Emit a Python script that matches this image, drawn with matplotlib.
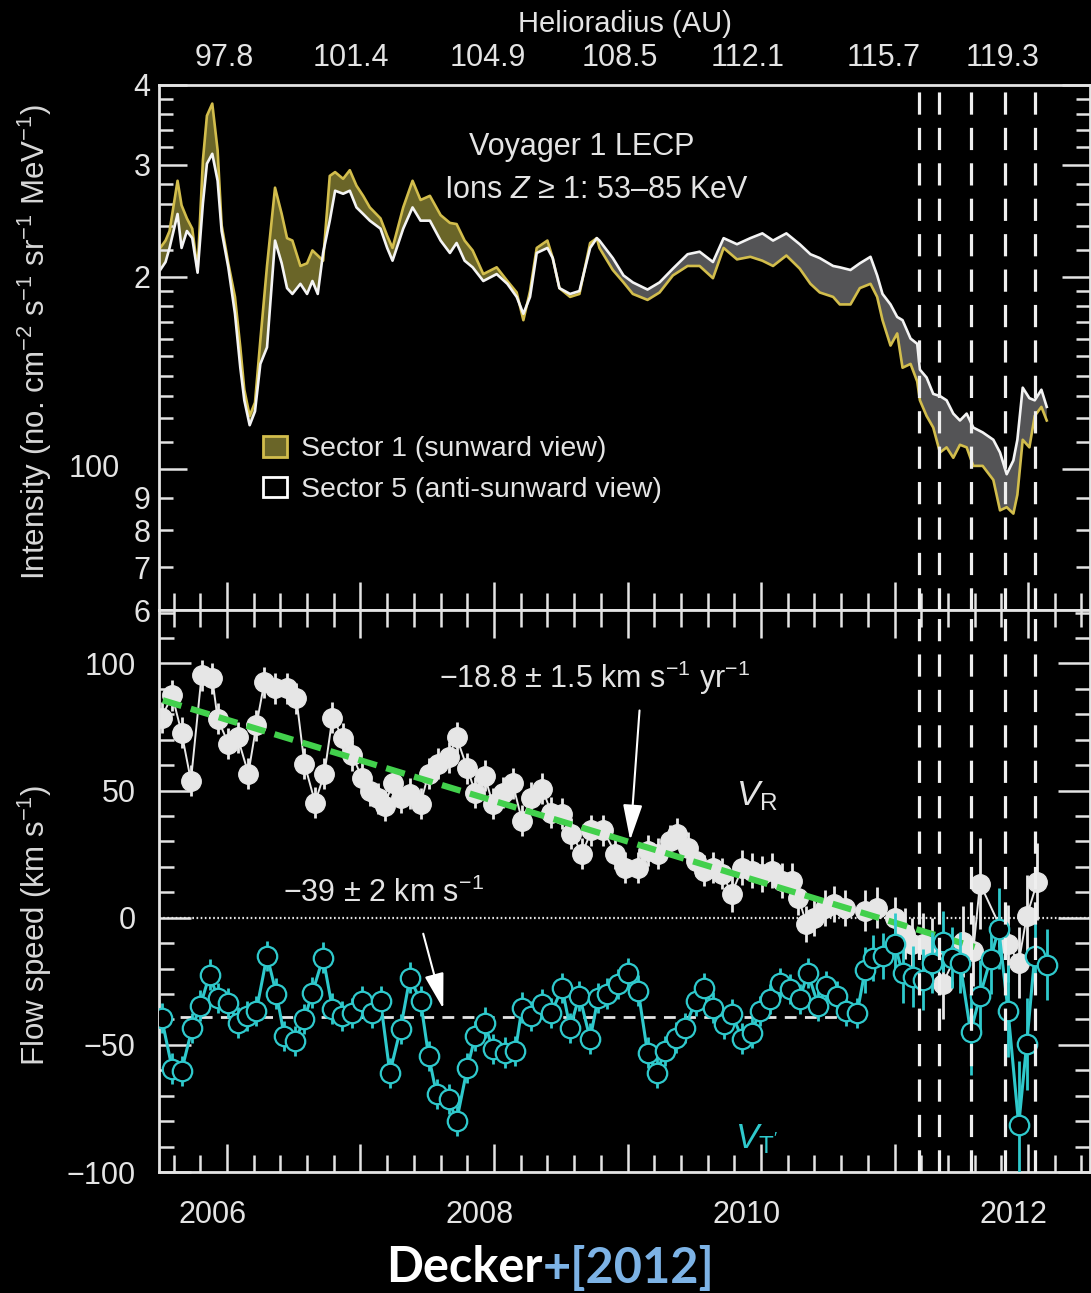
import numpy as np
import matplotlib.pyplot as plt
from matplotlib.patches import Patch
from matplotlib import transforms

plt.rcParams['font.family'] = ['Liberation Sans', 'DejaVu Sans']
plt.rcParams['mathtext.fontset'] = 'custom'
plt.rcParams['mathtext.rm'] = 'Liberation Sans'
plt.rcParams['mathtext.it'] = 'Liberation Sans:italic'
plt.rcParams['mathtext.bf'] = 'Liberation Sans:bold'
plt.rcParams['lines.scale_dashes'] = False

FG = '#e4e4e4'
GOLD = '#d2bd4c'
OLIVE = '#6a6528'
GRAY = '#545456'
CYAN = '#2fc9cc'
GREEN = '#42d04c'

# ---- top panel: LECP ion intensity (time in years) ----
T_INT = [2005.50, 2005.54, 2005.57, 2005.63, 2005.66, 2005.70, 2005.74, 2005.78, 2005.82, 2005.85,
         2005.89, 2005.93, 2005.96, 2006.01, 2006.06, 2006.10, 2006.13, 2006.17, 2006.21, 2006.25,
         2006.30, 2006.36, 2006.41, 2006.45, 2006.49, 2006.55, 2006.60, 2006.64, 2006.68, 2006.72,
         2006.77, 2006.81, 2006.87, 2006.92, 2006.97, 2007.02, 2007.07, 2007.15, 2007.20, 2007.24,
         2007.32, 2007.39, 2007.45, 2007.52, 2007.60, 2007.67, 2007.72, 2007.78, 2007.84, 2007.92,
         2008.02, 2008.10, 2008.17, 2008.22, 2008.27, 2008.32, 2008.40, 2008.44, 2008.49, 2008.57,
         2008.64, 2008.72, 2008.77, 2008.79, 2008.89, 2008.97, 2009.04, 2009.15, 2009.24, 2009.34,
         2009.45, 2009.54, 2009.64, 2009.72, 2009.82, 2009.92, 2010.01, 2010.09, 2010.19, 2010.29,
         2010.37, 2010.44, 2010.54, 2010.59, 2010.67, 2010.74, 2010.82, 2010.87, 2010.91, 2010.97,
         2011.02, 2011.06, 2011.12, 2011.17, 2011.19, 2011.24, 2011.29, 2011.34, 2011.39, 2011.44,
         2011.49, 2011.54, 2011.59, 2011.66, 2011.74, 2011.79, 2011.84, 2011.89, 2011.92, 2011.96,
         2012.01, 2012.05, 2012.10, 2012.14]
SECTOR5 = [205, 211, 222, 251, 222, 236, 230, 203, 261, 301,
           312, 283, 236, 207, 175, 144, 128, 117, 123, 146,
           155, 228, 210, 192, 188, 195, 188, 197, 188, 218,
           245, 273, 270, 273, 257, 251, 245, 238, 222, 212,
           238, 257, 245, 245, 228, 218, 226, 212, 207, 197,
           202, 195, 186, 175, 186, 218, 222, 214, 192, 188,
           190, 222, 230, 228, 214, 201, 196, 191, 196, 206,
           217, 219, 211, 230, 225, 230, 234, 228, 234, 225,
           217, 214, 208, 207, 205, 210, 215, 201, 188, 181,
           173, 171, 160, 157, 143, 139, 131, 130, 128, 122,
           119, 122, 116, 114, 111, 106, 98, 103, 111, 134,
           129, 128, 133, 125]
SECTOR1 = [222, 228, 236, 283, 259, 247, 238, 205, 305, 358,
           374, 316, 241, 210, 186, 155, 133, 121, 127, 159,
           208, 276, 251, 230, 228, 208, 210, 220, 216, 212,
           288, 292, 285, 294, 278, 268, 257, 247, 232, 222,
           257, 283, 264, 268, 250, 243, 242, 228, 220, 202,
           207, 197, 189, 171, 190, 222, 228, 214, 192, 186,
           188, 226, 230, 222, 205, 196, 188, 184, 189, 201,
           208, 208, 199, 222, 213, 215, 212, 208, 216, 206,
           195, 189, 186, 181, 181, 192, 195, 186, 171, 156,
           163, 144, 146, 137, 128, 121, 116, 106, 108, 104,
           109, 108, 101, 101, 96, 86, 87, 85, 91, 111,
           108, 121, 125, 119]

# ---- bottom panel: flow speeds ----
VR_T = [2005.51, 2005.59, 2005.66, 2005.73, 2005.81, 2005.89, 2005.93, 2006.01, 2006.08, 2006.16,
        2006.22, 2006.28, 2006.36, 2006.45, 2006.52, 2006.58, 2006.66, 2006.73, 2006.79, 2006.87,
        2006.94, 2007.01, 2007.07, 2007.13, 2007.18, 2007.24, 2007.30, 2007.37, 2007.45, 2007.51,
        2007.58, 2007.66, 2007.72, 2007.80, 2007.86, 2007.93, 2007.99, 2008.07, 2008.14, 2008.21,
        2008.28, 2008.36, 2008.43, 2008.51, 2008.58, 2008.66, 2008.73, 2008.82, 2008.91, 2008.98,
        2009.08, 2009.15, 2009.23, 2009.32, 2009.37, 2009.45, 2009.51, 2009.57, 2009.64, 2009.71,
        2009.78, 2009.86, 2009.93, 2010.01, 2010.08, 2010.16, 2010.23, 2010.28, 2010.34, 2010.40,
        2010.48, 2010.55, 2010.63, 2010.78, 2010.87, 2011.00, 2011.08, 2011.13, 2011.21, 2011.28,
        2011.36, 2011.51, 2011.59, 2011.64, 2011.85, 2011.93, 2011.99, 2012.07]
VR_V = [78.7, 87.4, 72.8, 53.9, 95.3, 94.1, 78.3, 68.5, 70.9, 56.7,
        75.6, 92.5, 90.2, 90.2, 86.2, 60.6, 45.3, 56.7, 78.7, 70.5,
        63.8, 55.1, 50.0, 46.9, 44.1, 52.8, 47.2, 48.8, 44.9, 56.7,
        60.6, 63.0, 70.9, 58.7, 49.2, 55.9, 44.9, 49.2, 52.8, 38.2,
        47.2, 50.8, 41.3, 40.9, 33.1, 25.2, 34.3, 34.3, 25.2, 19.7,
        19.7, 26.4, 25.2, 30.3, 33.1, 27.6, 22.4, 18.5, 19.7, 17.3,
        9.4, 19.7, 18.5, 17.3, 18.5, 14.6, 14.6, 7.9, -2.4, 0.0,
        3.9, 5.5, 3.9, 2.8, 3.9, 0.0, -6.3, -10.2, -10.2, -12.2,
        -26.0, -9.4, -13.0, 13.4, -10.2, -17.7, 0.6, 14.2]
VR_ERR = [6, 6, 6, 6, 6, 6, 6, 6, 6, 6,
          6, 6, 6, 6, 6, 6, 6, 6, 6, 6,
          6, 6, 6, 6, 6, 6, 6, 6, 6, 6,
          6, 6, 6, 6, 6, 6, 6, 6, 6, 6,
          6, 6, 6, 6, 6, 6, 6, 6, 6, 6,
          6, 6, 6, 6, 6, 6, 6, 6, 6, 6,
          7, 7, 7, 7, 7, 7, 7, 7, 7, 7,
          7, 7, 7, 8, 8, 8, 10, 10, 12, 12,
          14, 14, 14, 18, 15, 14, 16, 15]

VT_T = [2005.51, 2005.59, 2005.66, 2005.74, 2005.80, 2005.87, 2005.93, 2006.01, 2006.08, 2006.15,
        2006.22, 2006.30, 2006.37, 2006.43, 2006.51, 2006.58, 2006.64, 2006.72, 2006.79, 2006.86,
        2006.94, 2007.01, 2007.09, 2007.15, 2007.22, 2007.30, 2007.37, 2007.45, 2007.51, 2007.57,
        2007.66, 2007.72, 2007.80, 2007.86, 2007.93, 2007.99, 2008.08, 2008.16, 2008.21, 2008.28,
        2008.36, 2008.43, 2008.51, 2008.57, 2008.64, 2008.72, 2008.78, 2008.85, 2008.93, 2009.00,
        2009.08, 2009.15, 2009.22, 2009.28, 2009.36, 2009.43, 2009.51, 2009.57, 2009.64, 2009.72,
        2009.78, 2009.86, 2009.93, 2009.99, 2010.07, 2010.14, 2010.22, 2010.29, 2010.35, 2010.43,
        2010.49, 2010.57, 2010.64, 2010.72, 2010.78, 2010.84, 2010.91, 2011.00, 2011.06, 2011.14,
        2011.21, 2011.28, 2011.36, 2011.43, 2011.49, 2011.57, 2011.64, 2011.72, 2011.78, 2011.85,
        2011.93, 2011.99, 2012.05, 2012.14]
VT_V = [-39.4, -59.4, -60.2, -43.3, -34.6, -22.4, -31.5, -33.5, -41.3, -38.6,
        -36.6, -15.0, -29.9, -46.5, -48.4, -39.8, -29.5, -15.7, -35.8, -38.6,
        -37.4, -32.7, -37.4, -32.7, -61.0, -43.7, -23.6, -32.7, -54.3, -69.3,
        -71.3, -79.9, -59.1, -46.5, -41.3, -51.6, -53.1, -52.4, -35.4, -38.6,
        -33.9, -37.4, -27.6, -43.3, -30.7, -47.6, -31.5, -29.9, -26.0, -21.7,
        -28.7, -53.1, -61.0, -52.4, -47.2, -43.3, -32.7, -27.6, -35.4, -41.7,
        -37.8, -47.6, -45.3, -36.6, -31.9, -25.6, -28.0, -31.9, -21.7, -34.6,
        -26.8, -30.7, -36.6, -37.4, -20.5, -15.7, -15.0, -10.2, -21.7, -23.2,
        -24.4, -17.7, -9.4, -15.7, -17.7, -44.9, -30.7, -16.1, -4.3, -36.6,
        -81.5, -49.6, -15.0, -18.5]
VT_ERR = [6, 6, 6, 6, 6, 6, 6, 6, 6, 6,
          6, 6, 6, 6, 6, 6, 6, 6, 6, 6,
          6, 6, 6, 6, 6, 6, 6, 6, 6, 6,
          6, 6, 6, 6, 6, 6, 6, 6, 6, 6,
          6, 6, 6, 6, 6, 6, 6, 6, 6, 6,
          6, 6, 6, 6, 6, 6, 6, 6, 6, 6,
          6, 6, 6, 6, 6, 6, 6, 6, 6, 6,
          6, 6, 6, 6, 9, 9, 9, 12, 12, 12,
          12, 12, 12, 12, 12, 17, 14, 14, 16, 18,
          25, 18, 14, 14]

FIT_T = [2005.52, 2011.60]        # -18.8 km/s/yr trend of V_R
FIT_V = [85.5, -11.5]
MEAN_VT_T = [2005.50, 2010.72]    # mean V_T' = -39 km/s
MEAN_VT_V = [-39, -39]
DISC_T = [2011.18, 2011.33, 2011.57, 2011.83, 2012.05]

HELIO_POS = [2005.98, 2006.93, 2007.95, 2008.94, 2009.90, 2010.92, 2011.81]
HELIO_LABELS = ['97.8', '101.4', '104.9', '108.5', '112.1', '115.7', '119.3']
YEARS = [2006, 2008, 2010, 2012]

XLIM = (2005.491, 2012.464)

fig = plt.figure(figsize=(10.91, 12.93), dpi=100, facecolor='black')
W, H = 1091, 1293
ax1 = fig.add_axes([159 / W, 1 - 610 / H, (1090 - 159) / W, 525 / H])
ax2 = fig.add_axes([159 / W, 1 - 1172 / H, (1090 - 159) / W, 562 / H])

for ax in (ax1, ax2):
    ax.set_facecolor('black')
    for s in ax.spines.values():
        s.set_color(FG)
        s.set_linewidth(2)
    ax.set_xlim(*XLIM)
    ax.set_xticks(np.arange(2006, 2013))
    ax.set_xticks(np.arange(2005.6, 2012.45, 0.2), minor=True)
    ax.tick_params(which='both', direction='in', top=True, right=True,
                   colors=FG, width=1.8, labelsize=22, labelbottom=False)
    ax.tick_params(axis='x', which='major', length=20)
    ax.tick_params(axis='x', which='minor', length=12)

# ---- top panel ----
t = np.array(T_INT)
s1 = np.array(SECTOR1)
s5 = np.array(SECTOR5)
ax1.set_yscale('log')
ax1.set_ylim(60, 400)
ax1.fill_between(t, s1, s5, where=s1 >= s5, interpolate=True, color=OLIVE, lw=0)
ax1.fill_between(t, s1, s5, where=s1 < s5, interpolate=True, color=GRAY, lw=0)
ax1.plot(t, s1, color=GOLD, lw=1.9)
ax1.plot(t, s5, color='#f4f4f4', lw=1.9)

ax1.set_yticks([100, 200, 300, 400], labels=['', '2', '3', '4'])
minor_y = [60, 70, 80, 90, 110, 120, 130, 140, 150, 160, 170, 180, 190,
           220, 240, 260, 280, 320, 340, 360, 380]
minor_lab = ['6', '7', '8', '9'] + [''] * (len(minor_y) - 4)
ax1.set_yticks(minor_y, labels=minor_lab, minor=True)
ax1.tick_params(axis='y', which='major', length=20, pad=6)
ax1.tick_params(axis='y', which='minor', length=10, pad=6, labelsize=22)
ax1.text(-0.042, 100, '100', color=FG, fontsize=22, ha='right', va='center',
         transform=transforms.blended_transform_factory(ax1.transAxes, ax1.transData))

ax1.text(0.454, 0.882, 'Voyager 1 LECP', color=FG, fontsize=22,
         ha='center', va='center', transform=ax1.transAxes)
ax1.text(0.470, 0.800, 'Ions $Z$ \u2265 1: 53\u201385 KeV', color=FG, fontsize=22,
         ha='center', va='center', transform=ax1.transAxes)

handles = [Patch(facecolor=OLIVE, edgecolor=GOLD, lw=2),
           Patch(facecolor='black', edgecolor='white', lw=2)]
leg = ax1.legend(handles, ['Sector 1 (sunward view)', 'Sector 5 (anti-sunward view)'],
                 loc='upper left', bbox_to_anchor=(263 / W, 1 - 436 / H),
                 bbox_transform=fig.transFigure, frameon=False, fontsize=20.5,
                 handlelength=0.85, handleheight=0.75, handletextpad=0.5,
                 labelspacing=0.5, borderpad=0, borderaxespad=0)
for txt in leg.get_texts():
    txt.set_color(FG)

# top helioradius axis
axt = ax1.twiny()
axt.set_xlim(*XLIM)
axt.set_xticks(HELIO_POS, labels=HELIO_LABELS)
axt.tick_params(axis='x', length=0, colors=FG, labelsize=22, pad=9)
for s in axt.spines.values():
    s.set_visible(False)
axt.tick_params(axis='y', left=False, right=False, labelleft=False, labelright=False)
fig.text(625 / W, 1 - 24 / H, 'Helioradius (AU)', color=FG, fontsize=21,
         ha='center', va='center')

# ---- bottom panel ----
ax2.set_ylim(-100, 121)
ax2.set_yticks([-100, -50, 0, 50, 100], labels=['\u2212100', '\u221250', '0', '50', '100'])
ax2.set_yticks(np.arange(-90, 121, 10), minor=True)
ax2.tick_params(axis='y', which='major', length=23, pad=17)
ax2.tick_params(axis='y', which='minor', length=11)

ax2.axhline(0, color=FG, lw=1.6, dashes=(1.2, 1.8), zorder=1)
ax2.plot(MEAN_VT_T, MEAN_VT_V, color=FG, lw=2, dashes=(8.5, 6), zorder=1.5)

ax2.errorbar(VR_T, VR_V, yerr=VR_ERR, fmt='none', ecolor='#e8e8e8', elinewidth=2, zorder=2)
ax2.plot(VR_T, VR_V, '-o', color='#e8e8e8', lw=1.4, ms=14, mfc='#e6e6e6', mec='#e6e6e6',
         zorder=2.1)
ax2.plot(FIT_T, FIT_V, color=GREEN, lw=4.5, dashes=(14, 7), zorder=2.5)
ax2.errorbar(VT_T, VT_V, yerr=VT_ERR, fmt='none', ecolor=CYAN, elinewidth=2, zorder=3)
ax2.plot(VT_T, VT_V, '-o', color=CYAN, lw=2.2, ms=14, mfc='black', mec=CYAN, mew=1.6,
         zorder=3.1)

for x in DISC_T:
    for ax in (ax1, ax2):
        ax.axvline(x, color='#efefef', lw=2.3, dashes=(16, 9.5), zorder=4)

ax2.text(0.468, 0.879, '\u221218.8 \u00b1 1.5 km s$^{-1}$ yr$^{-1}$', color=FG, fontsize=22,
         ha='center', va='center', transform=ax2.transAxes)
ax2.annotate('', xy=(2009.02, 30.5), xytext=(2009.09, 81.5),
             arrowprops=dict(arrowstyle='-|>,head_length=1.1,head_width=0.3',
                             color='white', lw=1.5, mutation_scale=20, shrinkA=0, shrinkB=0))
ax2.text(0.241, 0.496, '\u221239 \u00b1 2 km s$^{-1}$', color=FG, fontsize=22,
         ha='center', va='center', transform=ax2.transAxes)
ax2.annotate('', xy=(2007.62, -35.8), xytext=(2007.47, -6.3),
             arrowprops=dict(arrowstyle='-|>,head_length=1.1,head_width=0.3',
                             color='white', lw=1.5, mutation_scale=20, shrinkA=0, shrinkB=0))
ax2.text(0.642, 0.668, r'$V_{\mathrm{R}}$', color=FG, fontsize=25,
         ha='center', va='center', transform=ax2.transAxes)
ax2.text(0.642, 0.058, r"$V_{\mathrm{T}'}$", color=CYAN, fontsize=25,
         ha='center', va='center', transform=ax2.transAxes)

year_tr = transforms.blended_transform_factory(ax2.transData, ax2.transAxes)
for yr in YEARS:
    ax2.text(yr - 0.11, -0.077, str(yr), color=FG, fontsize=22,
             ha='center', va='center', transform=year_tr)

fig.text(35 / W, 1 - 342 / H,
         'Intensity (no. cm$^{-2}$ s$^{-1}$ sr$^{-1}$ MeV$^{-1}$)',
         color='#d8d8d8', fontsize=22.5, rotation=90, ha='center', va='center')
fig.text(35 / W, 1 - 925 / H, 'Flow speed (km s$^{-1}$)',
         color='#d8d8d8', fontsize=22.5, rotation=90, ha='center', va='center')

fig.text(543 / W, 1 - 1268 / H, 'Decker', color='white', fontsize=35,
         fontweight='bold', family=['Lato', 'DejaVu Sans'], ha='right', va='center')
fig.text(543 / W, 1 - 1268 / H, '+[2012]', color='#7db3e6', fontsize=35,
         fontweight='bold', family=['Lato', 'DejaVu Sans'], ha='left', va='center')

fig.savefig('out.png', dpi=100, facecolor='black')
